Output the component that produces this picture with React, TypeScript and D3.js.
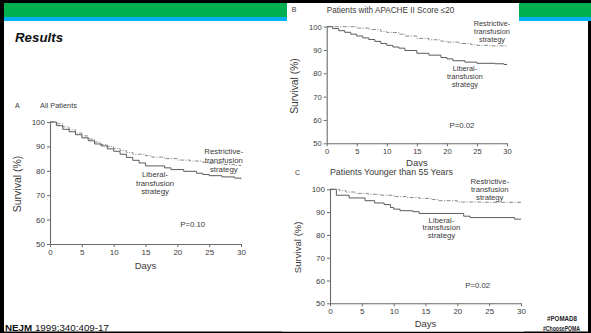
import { useEffect, useRef } from "react";
import * as d3 from "d3";

const dayTicks = [0, 5, 10, 15, 20, 25, 30];
const survivalTicks = [50, 60, 70, 80, 90, 100];

// A - All Patients
const allLiberalDays = [0, 1, 2, 3, 4, 5, 6, 7, 8, 9, 10, 11, 12, 13, 14, 15, 18, 19, 21, 23, 24, 25, 27, 29, 30];
const allLiberal = [100, 98.5, 97, 96, 94.8, 93.5, 92.3, 91, 90.2, 89, 88, 86.8, 85.5, 84.3, 83.2, 82, 81.2, 80.5, 79.8, 79, 78.5, 78, 77.5, 77, 76.7];
const allRestrictiveDays = [0, 1, 2, 3, 4, 5, 6, 7, 8, 9, 10, 11, 12, 13, 15, 16, 18, 20, 22, 24, 25, 27, 29, 30];
const allRestrictive = [100, 99.3, 98, 96.8, 95.5, 94.3, 93, 91.8, 90.8, 90, 89.2, 88.3, 87.5, 86.8, 86.2, 85.6, 85, 84.4, 84, 83.5, 83.1, 82.6, 82.2, 82];

// B - APACHE II score <= 20
const apacheLiberalDays = [0, 1, 2, 3, 4, 5, 6, 7, 8, 9, 10, 11, 12, 13, 15, 17, 19, 20, 21, 23, 25, 28, 29.5, 30];
const apacheLiberal = [100, 99.2, 98.3, 97.6, 96.8, 96, 95.2, 94.5, 93.7, 92.8, 92, 91.3, 90.8, 89.8, 88.6, 87.8, 86.8, 86.2, 85.4, 84.8, 84.3, 84.1, 83.8, 83.8];
const apacheRestrictiveDays = [0, 5, 7, 9, 10, 12, 13, 15, 17, 19, 20, 22, 24, 25, 27, 30];
const apacheRestrictive = [100, 99.4, 98.8, 98, 97.5, 96.8, 96, 95, 94.4, 93.8, 93.4, 92.8, 92.3, 92, 91.8, 91.5];

// C - younger than 55
const youngLiberalDays = [0, 1, 3, 5.5, 7, 8.5, 9.5, 10, 11, 13, 14, 21, 22, 29, 30];
const youngLiberal = [100, 97.4, 96.2, 95, 94, 93.3, 92, 91.3, 90.6, 90.2, 89.4, 88.2, 87.6, 86.9, 86.9];
const youngRestrictiveDays = [0, 1.5, 2.5, 4, 6, 8, 10, 12, 14, 16, 17, 20, 24, 30];
const youngRestrictive = [100, 99.4, 98.8, 98.2, 97.8, 97.4, 96.8, 96.4, 96, 95.5, 95, 94.4, 94.3, 94.2];

const restrictiveLabel = ["Restrictive-", "transfusion", "strategy"];
const liberalLabel = ["Liberal-", "transfusion", "strategy"];

const FONT = "'Liberation Sans', Arial, sans-serif";
const INK = "#3a3a3a";

interface Panel {
  letter: string;
  title: string;
  pValue: string;
  libDays: number[];
  lib: number[];
  resDays: number[];
  res: number[];
  left: number;
  right: number;
  top: number;
  bottom: number;
  titleDx: number;
  titleSize: number;
  tickSize: number;
  yLabelSize: number;
  noteSize: number;
  daysDy: number;
  resAt: [number, number];
  libAt: [number, number];
  pAt: [number, number];
  lineGap: number;
}

const panels: Panel[] = [
  {
    letter: "A", title: "All Patients", pValue: "P=0.10",
    libDays: allLiberalDays, lib: allLiberal, resDays: allRestrictiveDays, res: allRestrictive,
    left: 50, right: 241, top: 122, bottom: 244, titleDx: -10,
    titleSize: 7.4, tickSize: 8, yLabelSize: 10.5, noteSize: 7.8, daysDy: 24.5,
    resAt: [27.3, 86.7], libAt: [16.5, 77.5], pAt: [22.4, 56.8], lineGap: 8.7,
  },
  {
    letter: "B", title: "Patients with APACHE II Score \u226420", pValue: "P=0.02",
    libDays: apacheLiberalDays, lib: apacheLiberal, resDays: apacheRestrictiveDays, res: apacheRestrictive,
    left: 326.7, right: 507, top: 26.7, bottom: 143.3, titleDx: 0,
    titleSize: 8.2, tickSize: 7.6, yLabelSize: 10.3, noteSize: 7.3, daysDy: 22.5,
    resAt: [27.5, 100.4], libAt: [23, 81.1], pAt: [22.5, 56.4], lineGap: 8,
  },
  {
    letter: "C", title: "Patients Younger than 55 Years", pValue: "P=0.02",
    libDays: youngLiberalDays, lib: youngLiberal, resDays: youngRestrictiveDays, res: youngRestrictive,
    left: 330, right: 521, top: 189.3, bottom: 303.3, titleDx: 0,
    titleSize: 8.8, tickSize: 8, yLabelSize: 9.6, noteSize: 7.7, daysDy: 24,
    resAt: [25.1, 102.2], libAt: [17.5, 85.4], pAt: [23.2, 56.5], lineGap: 7.7,
  },
];

function drawPanel(svg: d3.Selection<SVGSVGElement, unknown, null, undefined>, p: Panel) {
  const x = d3.scaleLinear().domain([0, 30]).range([p.left, p.right]);
  const y = d3.scaleLinear().domain([50, 100]).range([p.bottom, p.top]);
  const g = svg.append("g").attr("font-family", FONT).attr("fill", INK);

  const styleAxis = (a: d3.Selection<SVGGElement, unknown, null, undefined>) => {
    a.select(".domain").attr("stroke", "#6a6a6a").attr("stroke-width", 1.1);
    a.selectAll(".tick line").attr("stroke", "#6a6a6a");
    a.selectAll(".tick text").attr("fill", INK).attr("font-size", p.tickSize).attr("font-family", FONT);
  };

  g.append("g")
    .attr("transform", `translate(0,${p.bottom})`)
    .call(d3.axisBottom(x).tickValues(dayTicks).tickSize(3).tickSizeOuter(0).tickPadding(2.5))
    .call(styleAxis);

  g.append("g")
    .attr("transform", `translate(${p.left},0)`)
    .call(d3.axisLeft(y).tickValues(survivalTicks).tickSize(3).tickSizeOuter(0).tickPadding(2))
    .call(styleAxis);

  const line = (days: number[]) =>
    d3.line<number>()
      .x((_, i) => x(days[i]))
      .y((d) => y(d))
      .curve(d3.curveStepAfter);

  g.append("path")
    .datum(p.res)
    .attr("d", line(p.resDays))
    .attr("fill", "none")
    .attr("stroke", "#8a8a8a")
    .attr("stroke-width", 1)
    .attr("stroke-dasharray", "4 1.5 1 1.5");

  g.append("path")
    .datum(p.lib)
    .attr("d", line(p.libDays))
    .attr("fill", "none")
    .attr("stroke", "#5a5a5a")
    .attr("stroke-width", 1);

  // titles
  g.append("text").attr("x", p.left - 35).attr("y", p.top - 14.5)
    .attr("font-size", 7).text(p.letter);
  g.append("text").attr("x", p.left + p.titleDx).attr("y", p.top - 14)
    .attr("font-size", p.titleSize).text(p.title);

  // axis titles
  g.append("text").attr("x", (p.left + p.right) / 2).attr("y", p.bottom + p.daysDy)
    .attr("text-anchor", "middle").attr("font-size", 9.5).text("Days");
  g.append("text")
    .attr("transform", `translate(${p.left - 29},${(p.top + p.bottom) / 2 + 1}) rotate(-90)`)
    .attr("text-anchor", "middle").attr("font-size", p.yLabelSize).text("Survival (%)");

  // series annotations
  const note = (lines: string[], at: [number, number]) =>
    g.append("text")
      .attr("text-anchor", "middle")
      .attr("font-size", p.noteSize)
      .selectAll("tspan")
      .data(lines)
      .join("tspan")
      .attr("x", x(at[0]))
      .attr("y", (_, i) => y(at[1]) + i * p.lineGap)
      .text((d) => d);
  note(restrictiveLabel, p.resAt);
  note(liberalLabel, p.libAt);

  g.append("text").attr("x", x(p.pAt[0])).attr("y", y(p.pAt[1]))
    .attr("text-anchor", "middle").attr("font-size", 7.8).text(p.pValue);
}

export default function App() {
  const svgRef = useRef<SVGSVGElement>(null);

  useEffect(() => {
    if (!svgRef.current) return;
    const svg = d3.select(svgRef.current);
    svg.selectAll("*").remove();

    // slide frame and header bars
    svg.append("rect").attr("width", 591).attr("height", 333).attr("fill", "#000");
    svg.append("rect").attr("x", 4).attr("y", 21).attr("width", 584).attr("height", 310.5).attr("fill", "#fff");
    svg.append("rect").attr("x", 4).attr("y", 3).attr("width", 587).attr("height", 14).attr("fill", "#00b050");
    svg.append("rect").attr("x", 4).attr("y", 17).attr("width", 587).attr("height", 4).attr("fill", "#00b0f0");

    svg.append("text").attr("x", 15).attr("y", 41.5)
      .attr("font-family", FONT).attr("font-weight", "bold").attr("font-style", "italic")
      .attr("font-size", 13.3).attr("fill", "#111").text("Results");

    drawPanel(svg, panels[0]);

    svg.append("rect").attr("x", 287).attr("y", 3).attr("width", 232).attr("height", 164).attr("fill", "#fff");
    drawPanel(svg, panels[1]);

    // panel C's picture sits over the bottom of panel B's "Days"
    svg.append("rect").attr("x", 282).attr("y", 166.5).attr("width", 242).attr("height", 165).attr("fill", "#fff");
    drawPanel(svg, panels[2]);

    // footer
    const cite = svg.append("text").attr("x", 5).attr("y", 330.5)
      .attr("font-family", FONT).attr("font-size", 9).attr("fill", "#111")
      .attr("textLength", 104).attr("lengthAdjust", "spacingAndGlyphs");
    cite.append("tspan").attr("font-weight", "bold").text("NEJM");
    cite.append("tspan").text(" 1999;340:409-17");

    svg.append("text").attr("x", 562).attr("y", 321).attr("text-anchor", "middle")
      .attr("font-family", FONT).attr("font-weight", "bold").attr("font-size", 6.5).attr("fill", "#222")
      .attr("textLength", 30).attr("lengthAdjust", "spacingAndGlyphs").text("#POMAD8");
    svg.append("text").attr("x", 561.5).attr("y", 330.5).attr("text-anchor", "middle")
      .attr("font-family", FONT).attr("font-weight", "bold").attr("font-size", 6.5).attr("fill", "#222")
      .attr("textLength", 37).attr("lengthAdjust", "spacingAndGlyphs").text("#ChoosePOMA");
  }, []);

  return (
    <svg
      ref={svgRef}
      width={591}
      height={333}
      style={{ position: "absolute", left: 0, top: 0 }}
      role="img"
      aria-label="Kaplan-Meier survival curves, liberal vs restrictive transfusion strategy"
    />
  );
}
